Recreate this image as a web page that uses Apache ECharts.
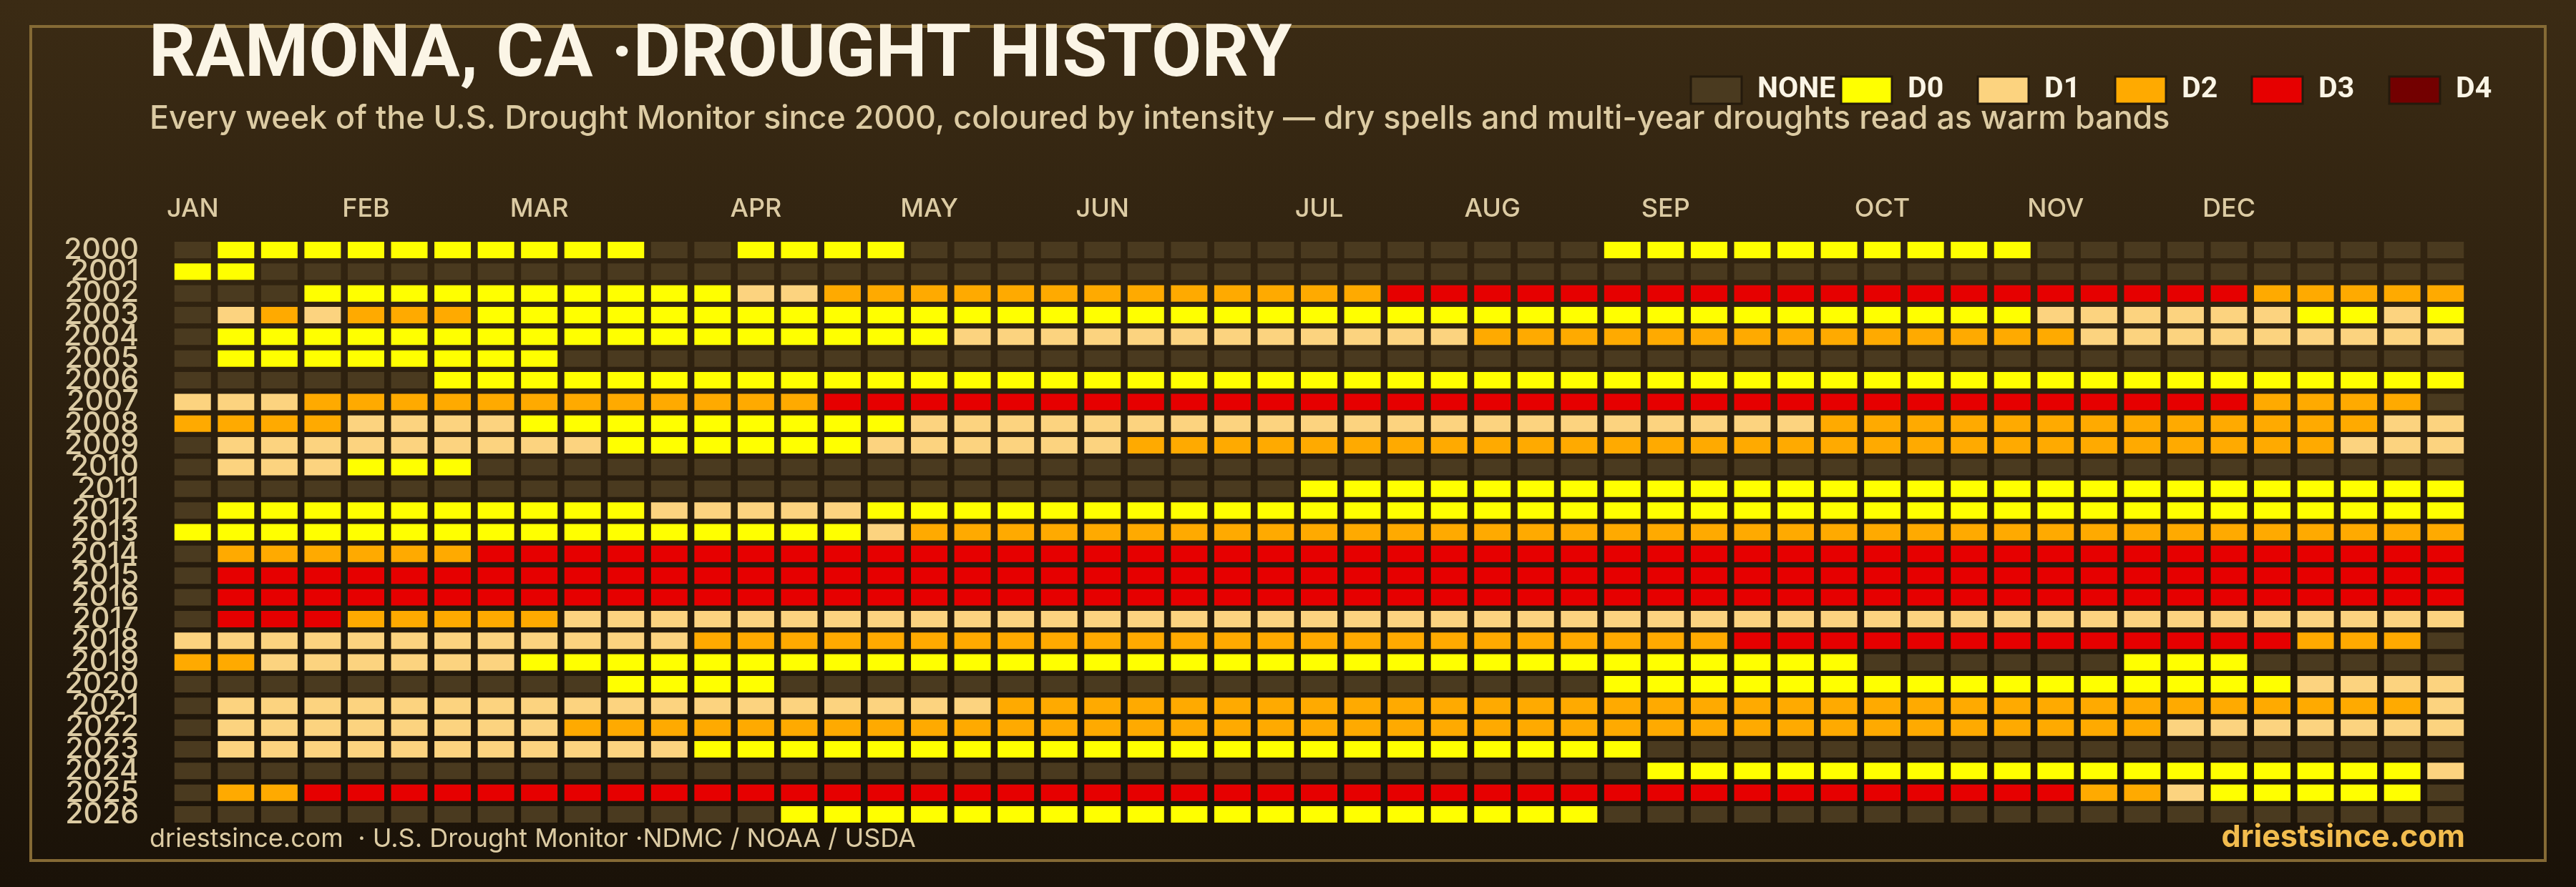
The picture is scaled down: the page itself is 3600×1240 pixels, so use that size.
<!DOCTYPE html>
<html><head><meta charset="utf-8">
<style>html,body{margin:0;padding:0;background:#1a1208}#c{width:3600px;height:1240px}</style>
<script src="https://cdn.jsdelivr.net/npm/echarts@6/dist/echarts.min.js"></script>
</head><body><div id="c"></div>
<script>
const levelNames = ['NONE','D0','D1','D2','D3','D4'];
const levelColors = ['#4a3a1f','#ffff00','#fcd37f','#ffaa00','#e60000','#730000'];
const years = ['2000','2001','2002','2003','2004','2005','2006','2007','2008','2009','2010','2011','2012','2013','2014','2015','2016','2017','2018','2019','2020','2021','2022','2023','2024','2025','2026'];
const weekTicks = ['JAN','','','','FEB','','','','MAR','','','','','APR','','','','MAY','','','','JUN','','','','','JUL','','','','AUG','','','','SEP','','','','','OCT','','','','NOV','','','','DEC','','','','',''];
// 0 = NONE, 1 = D0, 2 = D1, 3 = D2, 4 = D3, 5 = D4; one value per week
const y2000 = [0,1,1,1,1,1,1,1,1,1,1,0,0,1,1,1,1,0,0,0,0,0,0,0,0,0,0,0,0,0,0,0,0,1,1,1,1,1,1,1,1,1,1,0,0,0,0,0,0,0,0,0,0];
const y2001 = [1,1,0,0,0,0,0,0,0,0,0,0,0,0,0,0,0,0,0,0,0,0,0,0,0,0,0,0,0,0,0,0,0,0,0,0,0,0,0,0,0,0,0,0,0,0,0,0,0,0,0,0,0];
const y2002 = [0,0,0,1,1,1,1,1,1,1,1,1,1,2,2,3,3,3,3,3,3,3,3,3,3,3,3,3,4,4,4,4,4,4,4,4,4,4,4,4,4,4,4,4,4,4,4,4,3,3,3,3,3];
const y2003 = [0,2,3,2,3,3,3,1,1,1,1,1,1,1,1,1,1,1,1,1,1,1,1,1,1,1,1,1,1,1,1,1,1,1,1,1,1,1,1,1,1,1,1,2,2,2,2,2,2,1,1,2,1];
const y2004 = [0,1,1,1,1,1,1,1,1,1,1,1,1,1,1,1,1,1,2,2,2,2,2,2,2,2,2,2,2,2,3,3,3,3,3,3,3,3,3,3,3,3,3,3,2,2,2,2,2,2,2,2,2];
const y2005 = [0,1,1,1,1,1,1,1,1,0,0,0,0,0,0,0,0,0,0,0,0,0,0,0,0,0,0,0,0,0,0,0,0,0,0,0,0,0,0,0,0,0,0,0,0,0,0,0,0,0,0,0,0];
const y2006 = [0,0,0,0,0,0,1,1,1,1,1,1,1,1,1,1,1,1,1,1,1,1,1,1,1,1,1,1,1,1,1,1,1,1,1,1,1,1,1,1,1,1,1,1,1,1,1,1,1,1,1,1,1];
const y2007 = [2,2,2,3,3,3,3,3,3,3,3,3,3,3,3,4,4,4,4,4,4,4,4,4,4,4,4,4,4,4,4,4,4,4,4,4,4,4,4,4,4,4,4,4,4,4,4,4,3,3,3,3,0];
const y2008 = [3,3,3,3,2,2,2,2,1,1,1,1,1,1,1,1,1,2,2,2,2,2,2,2,2,2,2,2,2,2,2,2,2,2,2,2,2,2,3,3,3,3,3,3,3,3,3,3,3,3,3,2,2];
const y2009 = [0,2,2,2,2,2,2,2,2,2,1,1,1,1,1,1,2,2,2,2,2,2,3,3,3,3,3,3,3,3,3,3,3,3,3,3,3,3,3,3,3,3,3,3,3,3,3,3,3,3,2,2,2];
const y2010 = [0,2,2,2,1,1,1,0,0,0,0,0,0,0,0,0,0,0,0,0,0,0,0,0,0,0,0,0,0,0,0,0,0,0,0,0,0,0,0,0,0,0,0,0,0,0,0,0,0,0,0,0,0];
const y2011 = [0,0,0,0,0,0,0,0,0,0,0,0,0,0,0,0,0,0,0,0,0,0,0,0,0,0,1,1,1,1,1,1,1,1,1,1,1,1,1,1,1,1,1,1,1,1,1,1,1,1,1,1,1];
const y2012 = [0,1,1,1,1,1,1,1,1,1,1,2,2,2,2,2,1,1,1,1,1,1,1,1,1,1,1,1,1,1,1,1,1,1,1,1,1,1,1,1,1,1,1,1,1,1,1,1,1,1,1,1,1];
const y2013 = [1,1,1,1,1,1,1,1,1,1,1,1,1,1,1,1,2,3,3,3,3,3,3,3,3,3,3,3,3,3,3,3,3,3,3,3,3,3,3,3,3,3,3,3,3,3,3,3,3,3,3,3,3];
const y2014 = [0,3,3,3,3,3,3,4,4,4,4,4,4,4,4,4,4,4,4,4,4,4,4,4,4,4,4,4,4,4,4,4,4,4,4,4,4,4,4,4,4,4,4,4,4,4,4,4,4,4,4,4,4];
const y2015 = [0,4,4,4,4,4,4,4,4,4,4,4,4,4,4,4,4,4,4,4,4,4,4,4,4,4,4,4,4,4,4,4,4,4,4,4,4,4,4,4,4,4,4,4,4,4,4,4,4,4,4,4,4];
const y2016 = [0,4,4,4,4,4,4,4,4,4,4,4,4,4,4,4,4,4,4,4,4,4,4,4,4,4,4,4,4,4,4,4,4,4,4,4,4,4,4,4,4,4,4,4,4,4,4,4,4,4,4,4,4];
const y2017 = [0,4,4,4,3,3,3,3,3,2,2,2,2,2,2,2,2,2,2,2,2,2,2,2,2,2,2,2,2,2,2,2,2,2,2,2,2,2,2,2,2,2,2,2,2,2,2,2,2,2,2,2,2];
const y2018 = [2,2,2,2,2,2,2,2,2,2,2,2,3,3,3,3,3,3,3,3,3,3,3,3,3,3,3,3,3,3,3,3,3,3,3,3,4,4,4,4,4,4,4,4,4,4,4,4,4,3,3,3,0];
const y2019 = [3,3,2,2,2,2,2,2,1,1,1,1,1,1,1,1,1,1,1,1,1,1,1,1,1,1,1,1,1,1,1,1,1,1,1,1,1,1,1,0,0,0,0,0,0,1,1,1,0,0,0,0,0];
const y2020 = [0,0,0,0,0,0,0,0,0,0,1,1,1,1,0,0,0,0,0,0,0,0,0,0,0,0,0,0,0,0,0,0,0,1,1,1,1,1,1,1,1,1,1,1,1,1,1,1,1,2,2,2,2];
const y2021 = [0,2,2,2,2,2,2,2,2,2,2,2,2,2,2,2,2,2,2,3,3,3,3,3,3,3,3,3,3,3,3,3,3,3,3,3,3,3,3,3,3,3,3,3,3,3,3,3,3,3,3,3,2];
const y2022 = [0,2,2,2,2,2,2,2,2,3,3,3,3,3,3,3,3,3,3,3,3,3,3,3,3,3,3,3,3,3,3,3,3,3,3,3,3,3,3,3,3,3,3,3,3,3,2,2,2,2,2,2,2];
const y2023 = [0,2,2,2,2,2,2,2,2,2,2,2,1,1,1,1,1,1,1,1,1,1,1,1,1,1,1,1,1,1,1,1,1,1,0,0,0,0,0,0,0,0,0,0,0,0,0,0,0,0,0,0,0];
const y2024 = [0,0,0,0,0,0,0,0,0,0,0,0,0,0,0,0,0,0,0,0,0,0,0,0,0,0,0,0,0,0,0,0,0,0,1,1,1,1,1,1,1,1,1,1,1,1,1,1,1,1,1,1,2];
const y2025 = [0,3,3,4,4,4,4,4,4,4,4,4,4,4,4,4,4,4,4,4,4,4,4,4,4,4,4,4,4,4,4,4,4,4,4,4,4,4,4,4,4,4,4,4,3,3,2,1,1,1,1,1,0];
const y2026 = [0,0,0,0,0,0,0,0,0,0,0,0,0,0,1,1,1,1,1,1,1,1,1,1,1,1,1,1,1,1,1,1,1,0,0,0,0,0,0,0,0,0,0,0,0,0,0,0,0,0,0,0,0];
const rows = [y2000,y2001,y2002,y2003,y2004,y2005,y2006,y2007,y2008,y2009,y2010,y2011,y2012,y2013,y2014,y2015,y2016,y2017,y2018,y2019,y2020,y2021,y2022,y2023,y2024,y2025,y2026];

const FONT = 'Inter';
const cream = '#fbf5e6', tan = '#dccba3';
const series = levelNames.map((name, lvl) => {
  const data = [];
  rows.forEach((row, r) => row.forEach((v, w) => { if (v === lvl) data.push([w, r]); }));
  return { name, type:'scatter', data, symbol:'rect', symbolSize:[51,23], silent:true,
    itemStyle:{ color:levelColors[lvl], opacity:1 }, emphasis:{disabled:true}, animation:false };
});
const legendLeft = [2361.5,2571.5,2762.5,2954.5,3145.5,3337.5];
const legends = levelNames.map((name,i)=>({
  data:[name], left:legendLeft[i], top:105.5, padding:0, selectedMode:false, icon:'rect',
  itemWidth:71, itemHeight:38, itemStyle:{borderColor:'#241a0c',borderWidth:3},
  textStyle:{color:cream,fontFamily:'Roboto',fontWeight:700,fontSize:41,padding:[0,0,10,17]}
}));
const chart = echarts.init(document.getElementById('c'),null,{renderer:'canvas',width:3600,height:1240});
chart.setOption({
  animation:false,
  backgroundColor:{type:'linear',x:0,y:0,x2:0,y2:1,colorStops:[{offset:0,color:'#3b2b14'},{offset:1,color:'#1a1208'}]},
  graphic:[{type:'rect',z:-1,silent:true,shape:{x:43,y:37,width:3514,height:1166},style:{fill:'none',stroke:'#856a35',lineWidth:4}}],
  title:[
    {text:'RAMONA, CA ·DROUGHT HISTORY',left:208,top:29,padding:0,textStyle:{color:cream,fontFamily:'Roboto',fontWeight:700,fontSize:102}},
    {text:'Every week of the U.S. Drought Monitor since 2000, coloured by intensity — dry spells and multi-year droughts read as warm bands',left:209,top:144,padding:0,textStyle:{color:tan,fontFamily:FONT,fontWeight:500,fontSize:44.8}},
    {text:'driestsince.com  · U.S. Drought Monitor ·NDMC / NOAA / USDA',left:209,top:1155,padding:0,textStyle:{color:tan,fontFamily:FONT,fontWeight:400,fontSize:36}},
    {text:'driestsince.com',right:155,top:1150,padding:0,textStyle:{color:'#f2bc4e',fontFamily:FONT,fontWeight:700,fontSize:43}}
  ],
  legend:legends,
  grid:{left:239,top:334.3,width:3209,height:819.4,containLabel:false},
  xAxis:{type:'category',position:'top',data:weekTicks,axisLine:{show:false},axisTick:{show:false},splitLine:{show:false},
    axisLabel:{interval:0,margin:24,color:tan,fontFamily:FONT,fontWeight:500,fontSize:36}},
  yAxis:{type:'category',inverse:true,data:years,axisLine:{show:false},axisTick:{show:false},splitLine:{show:false},
    axisLabel:{interval:0,margin:45,color:tan,fontFamily:FONT,fontWeight:500,fontSize:41,padding:[0,0,8,0]}},
  tooltip:{show:false},
  series
});
</script></body></html>
